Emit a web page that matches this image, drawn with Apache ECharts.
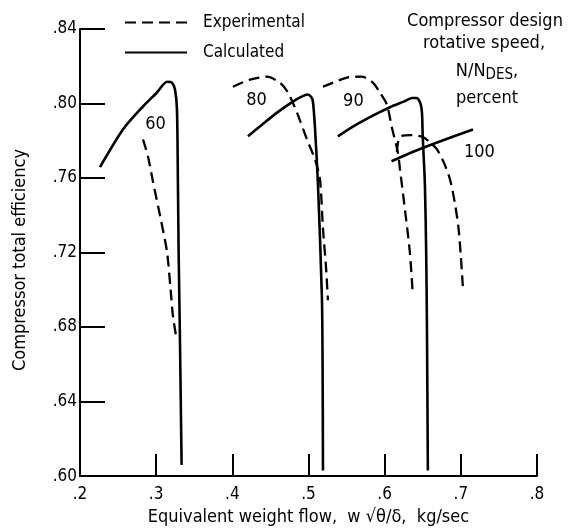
<!DOCTYPE html>
<html>
<head>
<meta charset="utf-8">
<script src="https://cdn.jsdelivr.net/npm/echarts@6/dist/echarts.min.js"></script>
<style>
html,body{margin:0;padding:0;background:#fff;}
#chart{width:568px;height:531px;}
</style>
</head>
<body>
<div id="chart"></div>
<script>
// ---- data ----
const xTicks = [0.2, 0.3, 0.4, 0.5, 0.6, 0.7, 0.8];
const yTicks = [0.60, 0.64, 0.68, 0.72, 0.76, 0.80, 0.84];
const speeds = ['60', '80', '90', '100'];

const exp60 = [[0.2827,0.7808],[0.2892,0.7717],[0.2958,0.758],[0.305,0.74],[0.3142,0.7205],[0.319,0.700],[0.322,0.686],[0.327,0.673]];
const calc60 = [[0.2262,0.7659],[0.2564,0.7861],[0.2827,0.7984],[0.301,0.8059],[0.3142,0.8117],[0.3207,0.8112],[0.3247,0.8075],[0.3273,0.7968],[0.3286,0.7557],[0.3295,0.72],[0.331,0.68],[0.3334,0.606]];

const exp80 = [[0.4008,0.809],[0.4231,0.8128],[0.4454,0.8144],[0.4625,0.8112],[0.473,0.8059],[0.4848,0.7952],[0.4979,0.7808],[0.5084,0.7701],[0.515,0.7595],[0.519,0.7328],[0.523,0.712],[0.5255,0.6944]];
const calc80 = [[0.4205,0.7824],[0.44,0.789],[0.46,0.7955],[0.4795,0.801],[0.491,0.8037],[0.499,0.8048],[0.5035,0.8035],[0.5058,0.801],[0.5084,0.7877],[0.5124,0.757],[0.5176,0.696],[0.5185,0.66],[0.519,0.603]];

const exp90 = [[0.519,0.809],[0.5503,0.8139],[0.570,0.8144],[0.5845,0.8112],[0.5937,0.8059],[0.6029,0.7995],[0.6094,0.7872],[0.6173,0.7739],[0.620,0.765],[0.6265,0.7435],[0.633,0.7205],[0.637,0.697]];
const calc90 = [[0.5385,0.7824],[0.56,0.788],[0.587,0.794],[0.607,0.798],[0.625,0.801],[0.636,0.803],[0.642,0.803],[0.647,0.800],[0.649,0.795],[0.650,0.782],[0.6528,0.757],[0.6545,0.72],[0.6555,0.68],[0.6567,0.603]];

const exp100 = [[0.616,0.774],[0.618,0.780],[0.622,0.7825],[0.635,0.783],[0.650,0.782],[0.660,0.779],[0.6685,0.7755],[0.678,0.768],[0.6856,0.7595],[0.692,0.747],[0.697,0.733],[0.700,0.718],[0.7026,0.702]];
const calc100 = [[0.609,0.769],[0.64,0.7745],[0.675,0.780],[0.716,0.786]];

const expSets = [exp60, exp80, exp90, exp100];
const calcSets = [calc60, calc80, calc90, calc100];

// ---- chart ----
const FONT = "'Liberation Sans Narrow', 'DejaVu Sans Condensed', 'Roboto', sans-serif";
const chart = echarts.init(document.getElementById('chart'), null, {renderer: 'canvas'});

const series = [];
expSets.forEach(function (d) {
  series.push({
    name: 'Experimental', type: 'line', data: d, symbol: 'none', showSymbol: false,
    smooth: 0.25, silent: true,
    itemStyle: {color: '#000'},
    lineStyle: {color: '#000', width: 2.3, type: [11, 6]}
  });
});
calcSets.forEach(function (d) {
  series.push({
    name: 'Calculated', type: 'line', data: d, symbol: 'none', showSymbol: false,
    smooth: 0.25, silent: true,
    itemStyle: {color: '#000'},
    lineStyle: {color: '#000', width: 2.6, type: 'solid'}
  });
});
// speed labels placed through the axes
const labelCoords = [[0.2997, 0.7888], [0.4323, 0.8016], [0.5596, 0.8011], [0.725, 0.7733]];
series.push({
  type: 'scatter', symbol: 'circle', symbolSize: 1, silent: true,
  itemStyle: {color: '#000', opacity: 0},
  data: speeds.map(function (s, i) { return {name: s, value: labelCoords[i]}; }),
  label: {show: true, position: [0, 0], align: 'center', verticalAlign: 'middle',
          formatter: '{b}', color: '#000', opacity: 1, textBorderWidth: 0,
          fontFamily: FONT, fontSize: 18}
});

chart.setOption({
  animation: false,
  backgroundColor: '#fff',
  grid: {left: 80, right: 31, top: 29, bottom: 52},
  legend: {
    data: ['Experimental', 'Calculated'],
    orient: 'vertical', left: 124, top: 14, padding: 0,
    itemWidth: 62, itemHeight: 16, itemGap: 13,
    selectedMode: false,
    itemStyle: {opacity: 0},
    textStyle: {color: '#000', fontFamily: FONT, fontSize: 17, padding: [0, 0, 0, 11]}
  },
  xAxis: {
    type: 'value', min: 0.2, max: 0.8, interval: 0.1,
    name: 'Equivalent weight flow,  w \u221A\u03B8/\u03B4,  kg/sec',
    nameLocation: 'middle', nameGap: 31,
    nameTextStyle: {color: '#000', fontFamily: FONT, fontSize: 18},
    axisLine: {lineStyle: {color: '#000', width: 2}},
    axisTick: {inside: true, length: 22, lineStyle: {color: '#000', width: 2}},
    splitLine: {show: false},
    axisLabel: {color: '#000', fontFamily: FONT, fontSize: 17, margin: 10,
      formatter: function (v) { return '.' + Math.round(v * 10); }}
  },
  yAxis: {
    type: 'value', min: 0.6, max: 0.84, interval: 0.04,
    axisLine: {lineStyle: {color: '#000', width: 2}},
    axisTick: {inside: true, length: 25, lineStyle: {color: '#000', width: 2}},
    splitLine: {show: false},
    axisLabel: {color: '#000', fontFamily: FONT, fontSize: 17, margin: 3,
      formatter: function (v) { return '.' + Math.round(v * 100); }}
  },
  graphic: [
    {type: 'text', x: 20, y: 260, rotation: Math.PI / 2,
     style: {text: 'Compressor total efficiency', fill: '#000', font: '18px ' + FONT,
             align: 'center', verticalAlign: 'middle'}},
    {type: 'text', x: 485, y: 21,
     style: {text: 'Compressor design', fill: '#000', font: '18px ' + FONT, align: 'center', verticalAlign: 'middle'}},
    {type: 'text', x: 484, y: 43,
     style: {text: 'rotative speed,', fill: '#000', font: '18px ' + FONT, align: 'center', verticalAlign: 'middle'}},
    {type: 'text', x: 487, y: 71,
     style: {text: 'N/N{sub|DES},', fill: '#000', font: '18px ' + FONT, align: 'center', verticalAlign: 'middle',
             rich: {sub: {fontSize: 15, fontFamily: FONT, verticalAlign: 'bottom', padding: [8, 0, 0, 0]}}}},
    {type: 'text', x: 487, y: 98,
     style: {text: 'percent', fill: '#000', font: '18px ' + FONT, align: 'center', verticalAlign: 'middle'}}
  ],
  series: series
});
</script>
</body>
</html>
